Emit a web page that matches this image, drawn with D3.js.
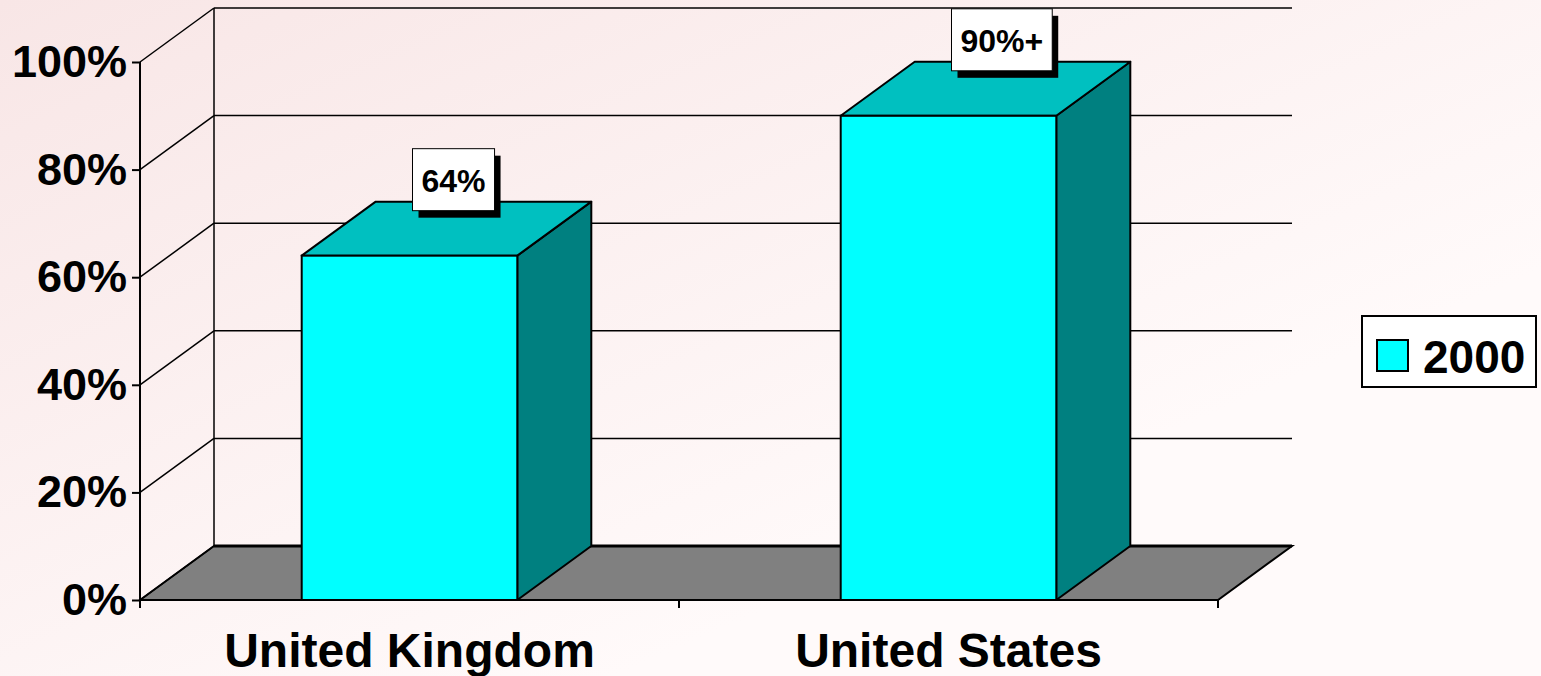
<!DOCTYPE html>
<html>
  <head>
    <meta charset="UTF-8">
    <title>3D bar chart 2000</title>
    <script src="https://d3js.org/d3.v7.min.js"></script>
    <style>
      html, body { margin: 0; height: 100%; }
      body { background: linear-gradient(to bottom right, #f8e6e6, #fffafa 70%); }
      svg { display: block; font-family: Arial, "Liberation Sans", sans-serif; font-weight: bold; }
    </style>
  </head>
  <body>
    <div id="chart"></div>
    <script>
      // data
      const categories = ["United Kingdom", "United States"];
      const values = [64, 90];
      const labels = ["64%", "90%+"];
      const series = "2000";
      const yTicks = [0, 20, 40, 60, 80, 100];

      const W = 1541, H = 676;
      const plotLeft = 140, plotRight = 1218, plotBottom = 600, plotTop = 62;
      const dx = 74, dy = -54; // 3d depth offset

      const svg = d3.select("#chart").append("svg")
        .attr("width", W).attr("height", H);

      const x = d3.scaleBand().domain(categories).range([plotLeft, plotRight])
        .paddingInner(0.6).paddingOuter(0.3);
      const y = d3.scaleLinear().domain([0, 100]).range([plotBottom, plotTop]);

      // floor
      svg.append("polygon")
        .attr("points", [[plotLeft, plotBottom], [plotLeft + dx, plotBottom + dy], [plotRight + dx, plotBottom + dy], [plotRight, plotBottom]].join(" "))
        .attr("fill", "#808080").attr("stroke", "#000").attr("stroke-width", 2);

      // back wall gridlines + side wall diagonals
      const grid = svg.append("g").attr("stroke", "#000").attr("stroke-width", 1.5);
      grid.selectAll("line.h").data(yTicks).join("line").attr("class", "h")
        .attr("x1", plotLeft + dx).attr("x2", plotRight + dx)
        .attr("y1", d => y(d) + dy).attr("y2", d => y(d) + dy)
        .attr("stroke-width", d => d === 0 ? 3 : 1.5);
      grid.selectAll("line.d").data(yTicks).join("line").attr("class", "d")
        .attr("x1", plotLeft).attr("x2", plotLeft + dx)
        .attr("y1", d => y(d)).attr("y2", d => y(d) + dy);
      grid.append("line")
        .attr("x1", plotLeft + dx).attr("x2", plotLeft + dx)
        .attr("y1", y(100) + dy).attr("y2", y(0) + dy);

      // y axis
      const yAxis = svg.append("g").attr("transform", `translate(${plotLeft},0)`)
        .call(d3.axisLeft(y).tickValues(yTicks).tickFormat(d => d + "%").tickSize(8).tickPadding(5));
      yAxis.select(".domain").attr("stroke", "#000").attr("stroke-width", 2).attr("d", `M0,${plotTop}V${plotBottom}`);
      yAxis.selectAll(".tick line").attr("stroke-width", 2);
      yAxis.selectAll("text").attr("font-size", 45).attr("font-weight", "bold").attr("fill", "#000")
        .attr("font-family", "Arial, 'Liberation Sans', sans-serif");

      // x axis
      const xAxis = svg.append("g").attr("transform", `translate(0,${plotBottom})`);
      xAxis.append("line").attr("x1", plotLeft).attr("x2", plotRight)
        .attr("stroke", "#000").attr("stroke-width", 2);
      const xTickPos = [plotLeft, (plotLeft + plotRight) / 2, plotRight];
      xAxis.selectAll("line.t").data(xTickPos).join("line").attr("class", "t")
        .attr("x1", d => d).attr("x2", d => d).attr("y1", 0).attr("y2", 8)
        .attr("stroke", "#000").attr("stroke-width", 2);
      xAxis.selectAll("text").data(categories).join("text")
        .attr("x", d => x(d) + x.bandwidth() / 2)
        .attr("y", 67)
        .attr("text-anchor", "middle").attr("font-size", 48)
        .text(d => d);

      // bars
      const rows = categories.map((c, i) => ({ c, v: values[i], label: labels[i] }));
      const bars = svg.selectAll("g.bar").data(rows).join("g").attr("class", "bar");
      bars.append("polygon") // side
        .attr("points", d => {
          const x1 = x(d.c) + x.bandwidth();
          return [[x1, y(0)], [x1 + dx, y(0) + dy], [x1 + dx, y(d.v) + dy], [x1, y(d.v)]].join(" ");
        })
        .attr("fill", "#008080").attr("stroke", "#000").attr("stroke-width", 2).attr("stroke-linejoin", "round");
      bars.append("polygon") // top
        .attr("points", d => {
          const x0 = x(d.c), x1 = x0 + x.bandwidth(), yv = y(d.v);
          return [[x0, yv], [x0 + dx, yv + dy], [x1 + dx, yv + dy], [x1, yv]].join(" ");
        })
        .attr("fill", "#00C0C0").attr("stroke", "#000").attr("stroke-width", 2).attr("stroke-linejoin", "round");
      bars.append("rect") // front
        .attr("x", d => x(d.c)).attr("y", d => y(d.v))
        .attr("width", x.bandwidth()).attr("height", d => y(0) - y(d.v))
        .attr("fill", "#00FFFF").attr("stroke", "#000").attr("stroke-width", 2);

      // value labels
      bars.each(function(d) {
        const g = d3.select(this);
        const cx = x(d.c) + x.bandwidth() / 2 + dx / 2;
        const t = g.append("text").attr("font-size", 32).text(d.label)
          .attr("text-anchor", "start");
        const tw = t.node().getComputedTextLength();
        const bw = tw + 18, bh = 62;
        const bx = cx - 34, by = y(d.v) + dy + 9 - bh;
        g.insert("rect", "text").attr("x", bx + 6).attr("y", by + 7).attr("width", bw).attr("height", bh).attr("fill", "#000");
        g.insert("rect", "text").attr("x", bx).attr("y", by).attr("width", bw).attr("height", bh)
          .attr("fill", "#fff").attr("stroke", "#000").attr("stroke-width", 1);
        t.attr("x", bx + 9).attr("y", by + bh / 2 + 12);
      });

      // legend
      const lg = svg.append("g").attr("transform", "translate(1362,316)");
      lg.append("rect").attr("width", 174).attr("height", 71).attr("fill", "#fff")
        .attr("stroke", "#000").attr("stroke-width", 2);
      lg.append("rect").attr("x", 15).attr("y", 24).attr("width", 31).attr("height", 31)
        .attr("fill", "#00FFFF").attr("stroke", "#000").attr("stroke-width", 2);
      lg.append("text").attr("x", 61).attr("y", 57).attr("font-size", 46).text(series);
    </script>
  </body>
</html>
